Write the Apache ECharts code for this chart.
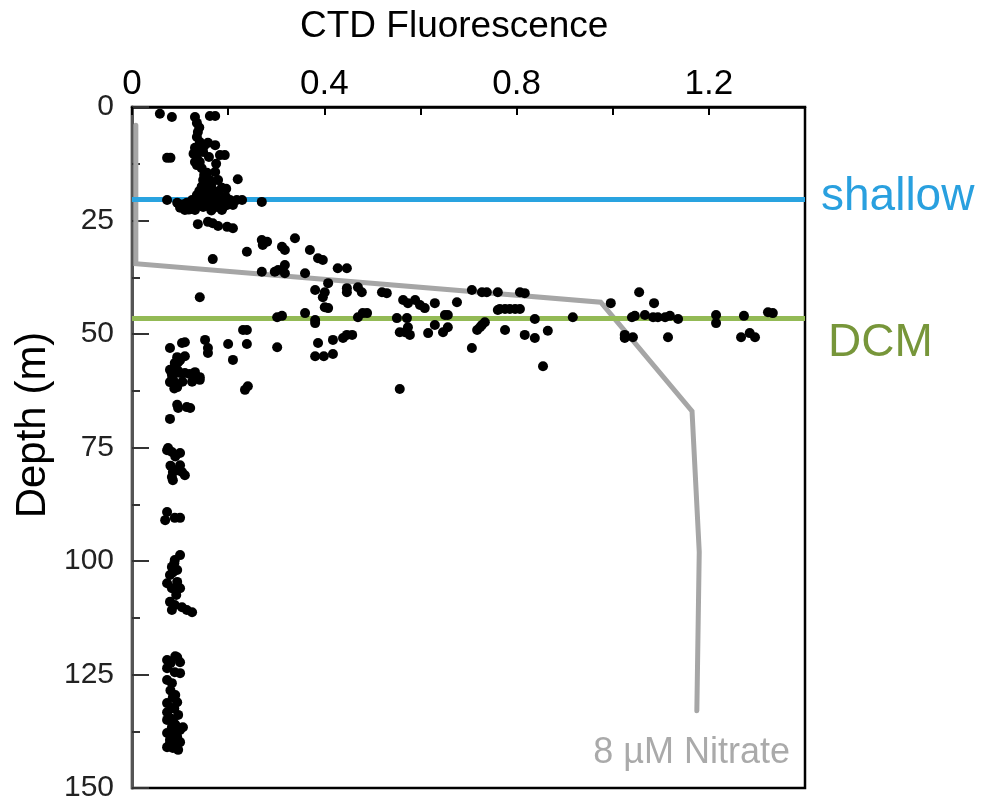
<!DOCTYPE html>
<html>
<head>
<meta charset="utf-8">
<script src="https://cdn.jsdelivr.net/npm/echarts@6/dist/echarts.min.js"></script>
<style>
html,body{margin:0;padding:0;background:#fff;}
#chart{width:986px;height:803px;}
</style>
</head>
<body>
<div id="chart"></div>
<script>
// ---- data ----
var xTickLabels = ['0', '0.4', '0.8', '1.2'];
var yTickLabels = ['0', '25', '50', '75', '100', '125', '150'];

// CTD fluorescence samples: fluorescence value and depth (m), index-matched
var fluorescence = [
  0.058,0.083,0.131,0.162,0.173,0.135,0.137,0.135,0.141,0.158,0.173,0.131,0.141,0.148,0.183,0.193,0.135,0.073,0.080,0.131,0.141,
  0.156,0.173,0.179,0.148,0.162,0.220,0.152,0.168,0.187,
  0.073,0.094,0.100,0.114,0.125,0.127,0.141,0.148,0.156,0.162,0.168,0.177,0.183,0.193,0.204,0.218,0.229,0.270,
  0.110,0.135,0.152,0.173,0.131,0.187,
  0.137,0.158,0.168,0.179,0.198,0.210,
  0.270,0.272,0.281,0.312,0.318,0.339,0.239,0.168,0.370,0.387,0.397,0.270,0.297,0.304,0.318,0.318,0.360,0.428,0.447,
  0.408,0.381,0.401,0.397,0.447,0.447,0.470,0.478,0.520,0.530,0.564,0.574,0.589,0.599,0.609,0.630,0.676,0.707,0.728,0.738,0.761,0.807,0.817,0.401,0.408,0.141,
  0.302,0.312,0.360,0.381,0.381,0.470,0.480,0.489,0.551,0.572,0.557,0.568,0.574,0.578,0.630,0.616,0.647,0.657,0.651,0.657,0.718,0.728,0.734,0.761,0.724,
  0.765,0.776,0.786,0.797,0.807,0.776,0.817,0.838,0.865,0.838,0.855,0.917,0.996,1.055,1.086,1.040,1.046,1.067,1.084,1.094,1.109,1.119,1.136,1.025,1.025,1.042,1.115,
  1.215,1.215,1.273,1.267,1.285,1.296,1.323,1.333,
  0.231,0.239,0.152,0.158,0.158,0.200,0.239,0.210,0.302,0.387,0.418,0.439,0.447,0.458,0.381,0.399,0.418,0.707,0.141,0.557,0.235,0.241,
  0.104,0.110,0.079,0.094,0.110,0.096,0.089,0.079,0.083,0.100,0.110,0.131,0.135,0.141,0.083,0.089,0.094,0.079,0.094,0.096,0.114,0.121,0.079,
  0.075,0.083,0.100,0.073,0.100,0.085,0.104,0.083,0.110,0.085,0.073,0.069,0.089,0.100,
  0.100,0.089,0.083,0.094,0.079,0.073,0.094,0.100,0.083,0.079,0.089,0.083,0.104,0.114,0.125,
  0.094,0.073,0.100,0.073,0.089,0.100,0.073,0.083,
  0.085,0.094,0.073,0.083,0.073,0.096,0.106,0.085,0.073,0.083,0.100,0.073,0.094,0.079,0.100,0.073,0.085,0.096,
  // denser clusters
  0.120,0.133,0.145,0.160,0.170,0.190,0.198,0.106,0.150,0.175,0.195,0.210,0.118,0.165,0.140,0.160,
  0.140,0.135,0.145,0.150,0.165,0.145,0.158,0.180,0.196,0.128,0.150,0.160,0.175,
  0.090,0.085,0.095,0.105,0.088,0.100,0.120,0.125,
  0.080,0.090,0.078,0.090,0.095,0.085,0.078,0.090,0.080,0.088,0.080,0.090,0.085,0.092,0.088,
  0.090,0.095,0.080
];
var sampleDepth = [
  1.5,2.2,2.2,2.0,2.0,3.5,5.5,6.6,7.7,7.9,8.4,9.0,9.5,9.9,10.6,10.6,11.2,11.2,11.2,12.1,12.1,
  14.5,14.3,16.1,16.1,16.1,15.9,17.4,18.3,17.8,
  20.5,21.1,22.2,21.1,20.5,22.0,20.9,22.0,20.5,22.0,20.0,22.0,20.5,21.1,20.5,20.5,20.5,20.9,
  22.7,19.4,19.4,18.9,22.7,22.7,
  25.8,25.3,25.6,26.2,26.4,26.7,
  29.3,30.4,29.7,30.8,31.5,28.9,31.9,33.5,31.5,33.3,33.7,36.3,36.3,35.9,34.8,36.6,36.6,35.5,35.5,
  38.8,40.3,40.8,41.9,39.9,40.8,39.7,40.8,40.8,41.0,42.5,43.2,42.5,43.6,44.3,43.2,43.0,40.3,40.8,40.8,40.8,40.8,41.0,44.1,44.3,41.9,
  46.3,46.0,45.4,46.9,47.6,46.3,45.4,45.4,46.5,46.5,49.6,49.6,48.5,50.2,48.0,49.8,49.6,48.5,45.8,45.8,49.1,48.0,47.4,44.7,48.5,
  44.5,44.5,44.5,44.5,44.5,49.1,50.2,50.9,49.3,46.7,57.1,46.3,43.2,40.8,43.2,46.3,46.0,45.8,46.3,46.3,46.3,46.0,46.7,50.2,50.9,50.7,50.7,
  45.8,47.6,46.0,50.7,49.8,50.7,45.2,45.4,
  49.1,49.1,51.3,53.1,54.2,52.2,52.2,55.7,52.9,52.0,51.3,50.9,50.2,50.2,54.9,54.9,54.4,53.1,59.5,62.1,62.3,61.5,
  52.0,51.8,53.1,55.1,54.9,56.2,56.4,57.9,59.0,58.6,58.6,58.4,59.7,60.1,60.1,60.8,61.7,60.6,65.6,66.3,66.1,66.3,68.7,
  75.1,76.0,76.2,75.6,78.9,80.4,80.4,81.5,81.1,82.2,89.2,91.0,90.5,90.5,
  98.7,99.8,101.3,102.0,103.1,104.9,104.6,106.0,106.0,109.0,109.7,110.8,110.2,110.8,111.3,
  121.2,121.8,122.3,123.6,124.5,124.7,126.2,126.9,
  130.0,131.1,131.3,132.4,133.3,133.9,136.6,135.0,135.0,136.6,137.2,137.9,138.8,139.4,139.9,141.0,141.2,141.6,
  // denser clusters
  21.5,21.8,21.3,21.5,21.3,22.0,21.6,21.5,20.2,20.3,19.8,21.6,22.6,22.8,18.5,19.0,
  4.5,12.8,13.5,15.0,17.0,17.5,18.7,18.6,18.0,10.3,8.6,11.0,12.5,
  57.0,59.8,58.0,60.5,62.0,55.8,58.8,60.5,
  128.5,129.5,134.5,136.0,137.5,139.0,140.5,140.5,138.0,132.5,122.5,121.0,102.5,107.5,100.5,
  77.0,80.0,79.0
];

// 8 µM nitrate isopleth
var nitrateX = [0.008, 0.008, 0.975, 1.165, 1.180, 1.175];
var nitrateDepth = [4, 34.5, 43.0, 67, 98, 133];

// reference depths
var shallowDepth = 20.3;
var dcmDepth = 46.5;

// ---- chart ----
var FONT = '"Liberation Sans", Arial, sans-serif';
var chart = echarts.init(document.getElementById('chart'), null, {renderer: 'canvas'});

var points = fluorescence.map(function (v, i) { return [v, sampleDepth[i]]; });
var nitrate = nitrateX.map(function (v, i) { return [v, nitrateDepth[i]]; });

function near(a, b) { return Math.abs(a - b) < 1e-6; }

var option = {
  animation: false,
  backgroundColor: '#ffffff',
  grid: {
    left: 132, top: 107, width: 673, height: 681,
    show: true, borderColor: '#000', borderWidth: 2.5, backgroundColor: 'transparent'
  },
  xAxis: {
    type: 'value', position: 'top', min: 0, max: 1.4, interval: 0.2,
    axisLine: {show: true, onZero: false, lineStyle: {color: '#000', width: 2.5}},
    axisTick: {show: true, inside: true, length: 8, lineStyle: {color: '#000', width: 2}},
    axisLabel: {
      margin: 5, color: '#000', fontSize: 35, fontFamily: FONT,
      formatter: function (v) {
        for (var i = 0; i < xTickLabels.length; i++) {
          if (near(parseFloat(xTickLabels[i]), v)) return xTickLabels[i];
        }
        return '';
      }
    },
    splitLine: {show: false}
  },
  yAxis: {
    type: 'value', inverse: true, min: 0, max: 150, interval: 25,
    axisLine: {show: true, onZero: false, lineStyle: {color: '#555', width: 3}},
    axisTick: {show: true, inside: true, length: 17, lineStyle: {color: '#333', width: 2}},
    minorTick: {show: true, splitNumber: 2, length: 8, lineStyle: {color: '#333', width: 2}},
    axisLabel: {
      margin: 18, color: '#222', fontSize: 30, fontFamily: FONT,
      formatter: function (v) {
        for (var i = 0; i < yTickLabels.length; i++) {
          if (near(parseFloat(yTickLabels[i]), v)) return yTickLabels[i];
        }
        return '';
      }
    },
    splitLine: {show: false}
  },
  graphic: [
    {type: 'text', left: 300, top: 8, z: 10,
      style: {text: 'CTD Fluorescence', font: '37px ' + FONT, fill: '#000'}},
    {type: 'text', x: 33, y: 425, rotation: Math.PI / 2, z: 10,
      style: {text: 'Depth (m)', font: '42px ' + FONT, fill: '#000', textAlign: 'center', textVerticalAlign: 'middle'}},
    {type: 'text', x: 821, y: 197, z: 10,
      style: {text: 'shallow', font: '46px ' + FONT, fill: '#29A0DF', textAlign: 'left', textVerticalAlign: 'middle'}},
    {type: 'text', x: 828, y: 343, z: 10,
      style: {text: 'DCM', font: '46px ' + FONT, fill: '#77963A', textAlign: 'left', textVerticalAlign: 'middle'}},
    {type: 'text', x: 790, y: 753, z: 10,
      style: {text: '8 µM Nitrate', font: '36px ' + FONT, fill: '#AAAAAA', textAlign: 'right', textVerticalAlign: 'middle'}}
  ],
  series: [
    {
      type: 'line', name: 'nitrate', data: nitrate, showSymbol: false, symbol: 'none',
      lineStyle: {color: '#A6A6A6', width: 5, cap: 'round', join: 'miter'}, z: 2, silent: true,
      markLine: {
        silent: true, symbol: 'none', animation: false, label: {show: false},
        data: [
          {yAxis: shallowDepth, lineStyle: {color: '#29A3E0', width: 5, type: 'solid'}},
          {yAxis: dcmDepth, lineStyle: {color: '#93BA55', width: 5, type: 'solid'}}
        ]
      }
    },
    {
      type: 'scatter', name: 'CTD', data: points, symbol: 'circle', symbolSize: 10,
      itemStyle: {color: '#000', opacity: 1}, z: 5, silent: true
    }
  ]
};
chart.setOption(option);
</script>
</body>
</html>
